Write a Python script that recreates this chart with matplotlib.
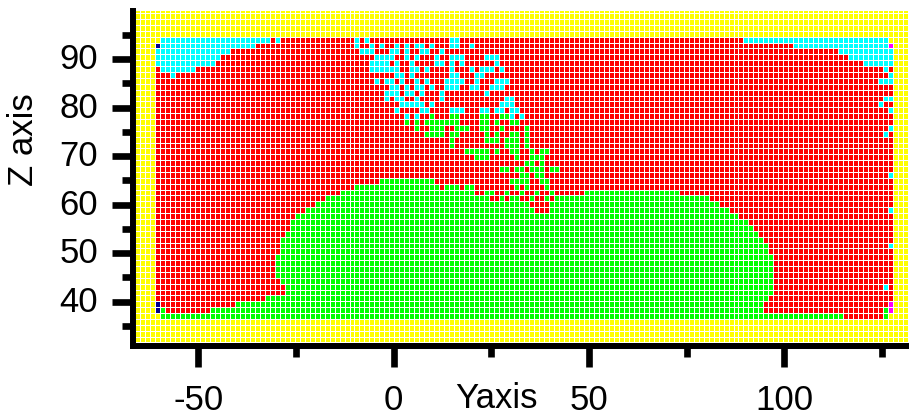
import numpy as np
import matplotlib
matplotlib.use("Agg")
import matplotlib.pyplot as plt
import matplotlib.transforms as mtransforms
from matplotlib.colors import ListedColormap, BoundaryNorm
from matplotlib.ticker import MultipleLocator

plt.rcParams['font.family'] = ['Liberation Sans', 'DejaVu Sans']
plt.rcParams['axes.unicode_minus'] = False

# ---- sampling grid (column = Yaxis position, row = Z position, row 0 at top)
n_cols, n_rows = 148, 48
y_first, y_step = -60.44, 1.2764
z_first, z_step = 93.99, -1.2116

# ---- class codes and colours
EMPTY, RED, GREEN, CYAN, BLUE, MAGENTA = 0, 1, 2, 3, 4, 5
class_colors = ['#FFFF00', '#FF0000', '#00FF00', '#00FFFF', '#000090', '#FF00FF']

# cyan block in the upper-left corner (row, first col, last col)
cyan_tl_row = [0, 1, 2, 3, 4, 5]
cyan_tl_first = [1, 1, 0, 0, 0, 1]
cyan_tl_last = [22, 19, 14, 12, 11, 7]

# cyan block in the upper-right corner
cyan_tr_row = [0, 1, 2, 3, 4]
cyan_tr_first = [118, 128, 137, 139, 142]
cyan_tr_last = [146, 146, 147, 147, 147]

# green body: row segments
green_seg_row = [24, 25, 26, 26, 27, 27, 28, 28, 29, 29, 30, 31, 32, 33, 34, 35,
                 36, 37, 38, 39, 40, 41, 42, 43, 44, 45, 46, 46, 46, 47, 47]
green_seg_first = [45, 40, 37, 86, 34, 80, 32, 79, 30, 79, 28, 27, 27, 26, 25, 25,
                   25, 24, 24, 24, 24, 25, 26, 26, 22, 16, 1, 11, 146, 1, 146]
green_seg_last = [55, 56, 63, 104, 66, 110, 74, 112, 75, 114, 116, 118, 119, 120, 121, 122,
                  122, 123, 123, 123, 123, 123, 123, 123, 122, 121, 1, 121, 146, 137, 146]

# scattered cyan cells (row, col)
cyan_pt_row = [0, 0, 0, 0, 0,
               1, 1, 1, 1, 1, 1, 1, 1, 1, 1, 1,
               2, 2, 2, 2, 2, 2, 2, 2, 2,
               3, 3, 3, 3, 3, 3, 3, 3, 3, 3, 3, 3, 3,
               4, 4, 4, 4, 4, 4, 4, 4, 4, 4, 4,
               5, 5, 5, 5, 5, 5, 5, 5, 5, 5, 5, 5, 5, 5, 5, 5,
               6, 6, 6, 6, 6, 6, 6, 6, 6,
               7, 7, 7, 7, 7, 7, 7, 7, 7, 7, 7, 7, 7, 7, 7, 7, 7,
               8, 8, 8, 8, 8, 8, 8, 8, 8, 8, 8, 8, 8, 8,
               9, 9, 9, 9, 9, 9, 9, 9,
               10, 10, 10, 10, 10, 10, 10, 10, 10,
               11, 11, 11, 11, 11, 11, 11, 11, 11, 11,
               12, 12, 12, 12, 12, 12, 12, 12, 12, 12, 12, 12, 12,
               13, 13, 13, 13,
               15, 16, 23, 29, 35, 42]
cyan_pt_col = [24, 40, 42, 59, 60,
               40, 43, 45, 48, 50, 52, 53, 55, 59, 60, 63,
               41, 42, 43, 47, 48, 50, 53, 54, 57,
               44, 45, 46, 47, 50, 52, 56, 59, 60, 61, 66, 67, 68,
               43, 44, 45, 46, 48, 51, 56, 57, 59, 61, 68,
               43, 44, 45, 46, 47, 48, 51, 52, 54, 59, 63, 65, 66, 67, 69, 146,
               3, 48, 49, 51, 59, 60, 64, 65, 147,
               44, 46, 47, 49, 52, 54, 58, 59, 60, 61, 64, 68, 69, 70, 145, 146, 147,
               47, 48, 50, 52, 53, 55, 58, 59, 60, 63, 64, 67, 68, 69,
               46, 47, 48, 50, 51, 53, 57, 66,
               46, 48, 49, 52, 57, 70, 71, 146, 147,
               49, 50, 51, 52, 53, 55, 69, 70, 71, 145,
               48, 53, 54, 59, 60, 61, 65, 66, 68, 69, 71, 72, 147,
               50, 52, 71, 73,
               147, 146, 147, 147, 147, 146]

# scattered green cells (row, col)
green_pt_row = [13] * 7 + [14] * 14 + [15] * 11 + [16] * 11 + [17] * 8 + [18] * 5 + \
               [19] * 11 + [20] * 7 + [21] * 3 + [22] * 9 + [23] * 4 + [24] * 6 + \
               [25] * 8 + [26] * 6 + [27] * 5
green_pt_col = [55, 59, 60, 65, 66, 69, 70,
                50, 52, 54, 55, 56, 57, 58, 59, 60, 65, 66, 68, 71, 72,
                52, 55, 56, 57, 60, 61, 62, 65, 66, 69, 74,
                54, 55, 56, 57, 59, 60, 66, 68, 71, 72, 74,
                59, 66, 67, 68, 70, 71, 72, 74,
                59, 70, 71, 72, 74,
                62, 63, 64, 65, 66, 68, 71, 72, 75, 77, 78,
                64, 65, 66, 72, 75, 76, 77,
                74, 75, 77,
                69, 70, 72, 73, 75, 76, 77, 79, 80,
                73, 74, 76, 77,
                71, 72, 73, 74, 77, 78,
                58, 59, 60, 62, 63, 72, 74, 78,
                66, 67, 70, 73, 76, 79,
                69, 71, 72, 75, 78]

# single marker cells at the domain corners
blue_row, blue_col = [1, 45, 46], [0, 0, 0]
magenta_row, magenta_col = [1, 45, 46], [147, 147, 147]
empty_row, empty_col = [0, 47, 0, 47], [0, 0, 147, 147]

# ---- build the class map (with an empty margin around the sampled domain)
pad_l, pad_r, pad_t, pad_b = 6, 6, 7, 7
grid = np.full((n_rows + pad_t + pad_b, n_cols + pad_l + pad_r), EMPTY)
dom = grid[pad_t:pad_t + n_rows, pad_l:pad_l + n_cols]
dom[:, :] = RED
for r, a, b in zip(cyan_tl_row, cyan_tl_first, cyan_tl_last):
    dom[r, a:b + 1] = CYAN
for r, a, b in zip(cyan_tr_row, cyan_tr_first, cyan_tr_last):
    dom[r, a:b + 1] = CYAN
for r, a, b in zip(green_seg_row, green_seg_first, green_seg_last):
    dom[r, a:b + 1] = GREEN
dom[cyan_pt_row, cyan_pt_col] = CYAN
dom[green_pt_row, green_pt_col] = GREEN
dom[blue_row, blue_col] = BLUE
dom[magenta_row, magenta_col] = MAGENTA
dom[empty_row, empty_col] = EMPTY

col_idx = np.arange(-pad_l, n_cols + pad_r + 1) - 0.5
row_idx = np.arange(-pad_t, n_rows + pad_b + 1) - 0.5
x_edges = y_first + col_idx * y_step
z_edges = z_first + row_idx * z_step

# ---- figure
fig = plt.figure(figsize=(9.09, 4.16), dpi=100)
ax = fig.add_axes([133 / 909, 1 - 346 / 416, 1 - 133 / 909, (346 - 11) / 416])

cmap = ListedColormap(class_colors)
norm = BoundaryNorm(np.arange(-0.5, len(class_colors) + 0.5), cmap.N)
ax.pcolormesh(x_edges, z_edges, grid, cmap=cmap, norm=norm,
              edgecolors='white', linewidth=0.5)

ax.set_xlim(-66.71, 131.9)
ax.set_ylim(30.87, 99.89)

for side in ('top', 'right'):
    ax.spines[side].set_visible(False)
for side in ('left', 'bottom'):
    ax.spines[side].set_linewidth(4.3)

ax.xaxis.set_major_locator(MultipleLocator(50))
ax.xaxis.set_minor_locator(MultipleLocator(25))
ax.yaxis.set_minor_locator(MultipleLocator(5))
ax.set_yticks([40, 50, 60, 70, 80, 90])
ax.tick_params(which='major', direction='out', length=15, width=4.8, labelsize=25)
ax.tick_params(which='minor', direction='out', length=8, width=4.8)
ax.tick_params(axis='x', which='major', pad=12)
ax.tick_params(axis='y', which='major', pad=10)

# lift the Z tick labels slightly above their ticks
lift = mtransforms.ScaledTranslation(0, 3 / 100, fig.dpi_scale_trans)
for lab in ax.get_yticklabels():
    lab.set_transform(lab.get_transform() + lift)

ax.set_xlabel('Yaxis', fontsize=25)
ax.xaxis.set_label_coords(0.469, -0.158)
ax.xaxis.label.set_va('center')
ax.set_ylabel('Z axis', fontsize=25)
ax.yaxis.set_label_coords(-0.1405, 0.615)
ax.yaxis.label.set_va('center')

fig.savefig('out.png', dpi=100)
